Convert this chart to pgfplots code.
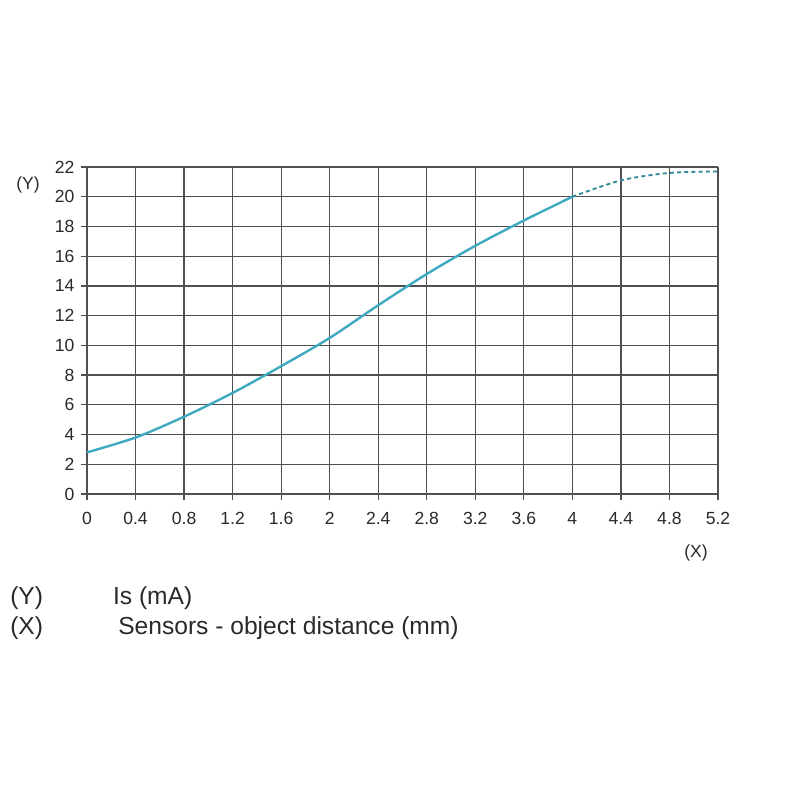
\documentclass[border=0pt]{standalone}
\usepackage{pgfplots}
\pgfplotsset{compat=1.18}
\usepackage{fontspec}
\setmainfont{Liberation Sans}
\definecolor{curve}{HTML}{3FA9C2}
\definecolor{gridc}{HTML}{505050}
\definecolor{txt}{HTML}{2A2A2A}
\begin{document}
\begin{tikzpicture}[x=1mm,y=1mm]
\path[use as bounding box, fill=white] (0,0) rectangle (200,200);
\begin{axis}[
  at={(21.75mm,76.5mm)}, anchor=south west,
  scale only axis, width=157.75mm, height=81.75mm,
  xmin=0, xmax=5.2, ymin=0, ymax=22,
  xtick={0,0.4,...,5.3}, ytick={0,2,...,22},
  xticklabels={0,0.4,0.8,1.2,1.6,2,2.4,2.8,3.2,3.6,4,4.4,4.8,5.2},
  grid=major,
  major grid style={gridc, line width=0.9pt},
  axis line style={gridc, line width=0.9pt},
  tick style={gridc, line width=0.9pt},
  major tick length=1.6mm,
  tick align=outside,
  axis x line*=bottom, axis y line*=left,
  tick label style={font=\fontsize{12.5}{14}\selectfont, text=txt},
  /pgf/number format/assume math mode=true,
  yticklabel style={xshift=-0.3mm},
  xticklabel style={yshift=-1.6mm, text height=9pt, text depth=0pt},
  clip=false,
]
\addplot[curve, line width=1.7pt, smooth] coordinates {
  (0,2.8) (0.4,3.8) (0.8,5.2) (1.2,6.8) (1.6,8.6) (2,10.5)
  (2.4,12.7) (2.8,14.8) (3.2,16.7) (3.6,18.4) (4,20)
};
\addplot[curve!80!black, line width=1.3pt, smooth, dash pattern=on 1mm off 0.8mm] coordinates {
  (4,20) (4.4,21.1) (4.8,21.6) (5.2,21.7)
};
\end{axis}
\node[text=txt, font=\fontsize{12.5}{14}\selectfont] at (7,153.7) {(Y)};
\node[text=txt, font=\fontsize{12.5}{14}\selectfont] at (174,61.7) {(X)};
\node[text=txt, font=\fontsize{17.5}{19}\selectfont, anchor=west, inner sep=0] at (2.5,50.5) {(Y)};
\node[text=txt, font=\fontsize{17.5}{19}\selectfont, anchor=west, inner sep=0] at (28.2,50.5) {Is (mA)};
\node[text=txt, font=\fontsize{17.5}{19}\selectfont, anchor=west, inner sep=0] at (2.5,43) {(X)};
\node[text=txt, font=\fontsize{17.5}{19}\selectfont, anchor=west, inner sep=0] at (29.5,43) {Sensors - object distance (mm)};
\end{tikzpicture}
\end{document}
